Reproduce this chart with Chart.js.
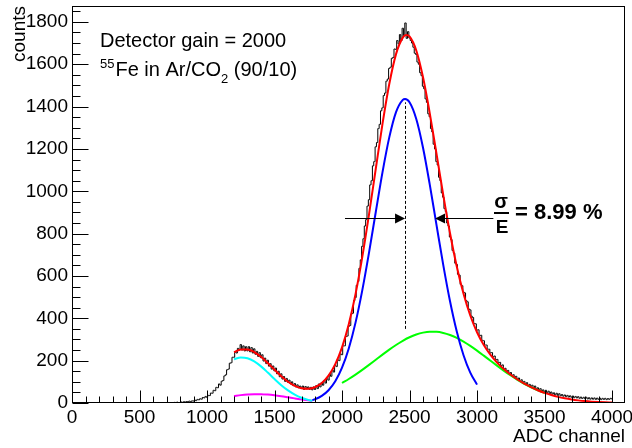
<!DOCTYPE html>
<html><head><meta charset="utf-8">
<script src="https://cdn.jsdelivr.net/npm/chart.js@4/dist/chart.umd.min.js"></script>
<style>html,body{margin:0;padding:0;background:#fff}canvas{display:block}</style>
</head><body>
<canvas id="c" width="632" height="448" style="width:632px;height:448px"></canvas>
<script>
const FONT = '"Liberation Sans", Arial, Helvetica, sans-serif';

// axis ticks
const xTickValues = [0,500,1000,1500,2000,2500,3000,3500,4000];
const yTickValues = [0,200,400,600,800,1000,1200,1400,1600,1800];

// measured histogram (bin centres, counts), 10-channel bins
const histX = [
700,710,720,730,740,750,760,770,780,790,800,810,820,830,840,850,860,870,880,890,
900,910,920,930,940,950,960,970,980,990,1000,1010,1020,1030,1040,1050,1060,1070,1080,1090,
1100,1110,1120,1130,1140,1150,1160,1170,1180,1190,1200,1210,1220,1230,1240,1250,1260,1270,1280,1290,
1300,1310,1320,1330,1340,1350,1360,1370,1380,1390,1400,1410,1420,1430,1440,1450,1460,1470,1480,1490,
1500,1510,1520,1530,1540,1550,1560,1570,1580,1590,1600,1610,1620,1630,1640,1650,1660,1670,1680,1690,
1700,1710,1720,1730,1740,1750,1760,1770,1780,1790,1800,1810,1820,1830,1840,1850,1860,1870,1880,1890,
1900,1910,1920,1930,1940,1950,1960,1970,1980,1990,2000,2010,2020,2030,2040,2050,2060,2070,2080,2090,
2100,2110,2120,2130,2140,2150,2160,2170,2180,2190,2200,2210,2220,2230,2240,2250,2260,2270,2280,2290,
2300,2310,2320,2330,2340,2350,2360,2370,2380,2390,2400,2410,2420,2430,2440,2450,2460,2470,2480,2490,
2500,2510,2520,2530,2540,2550,2560,2570,2580,2590,2600,2610,2620,2630,2640,2650,2660,2670,2680,2690,
2700,2710,2720,2730,2740,2750,2760,2770,2780,2790,2800,2810,2820,2830,2840,2850,2860,2870,2880,2890,
2900,2910,2920,2930,2940,2950,2960,2970,2980,2990,3000,3010,3020,3030,3040,3050,3060,3070,3080,3090,
3100,3110,3120,3130,3140,3150,3160,3170,3180,3190,3200,3210,3220,3230,3240,3250,3260,3270,3280,3290,
3300,3310,3320,3330,3340,3350,3360,3370,3380,3390,3400,3410,3420,3430,3440,3450,3460,3470,3480,3490,
3500,3510,3520,3530,3540,3550,3560,3570,3580,3590,3600,3610,3620,3630,3640,3650,3660,3670,3680,3690,
3700,3710,3720,3730,3740,3750,3760,3770,3780,3790,3800,3810,3820,3830,3840,3850,3860,3870,3880,3890,
3900,3910,3920,3930,3940,3950,3960,3970,3980,3990,4000];
const histY = [
0,1,0,2,1,0,3,1,4,2, 2,5,3,6,4,7,5,9,7,10,
9,14,11,17,15,20,18,26,24,31, 27,36,35,47,46,60,58,74,72,90,
84,103,106,128,133,157,160,188,190,216, 216,240,236,258,250,276,250,270,246,266,
246,266,242,262,236,256,230,244,220,238, 214,228,198,212,186,202,174,186,160,175,
152,165,138,150,124,138,113,125,102,116, 98,108,90,100,82,92,76,86,72,80,
70,80,64,78,66,76,64,74,62,76, 64,82,68,90,76,96,84,106,94,120,
108,136,126,156,146,178,172,204,200,232, 228,270,270,314,316,362,366,420,424,484,
498,556,574,636,676,740,776,836,866,930, 960,1030,1050,1120,1140,1210,1230,1296,1316,1380,
1394,1452,1464,1520,1530,1580,1586,1628,1632,1672, 1670,1712,1696,1740,1712,1770,1734,1795,1722,1754,
1724,1712,1700,1680,1652,1646,1610,1600,1560,1546, 1496,1484,1436,1420,1366,1352,1296,1280,1222,1200,
1140,1124,1066,1050,992,972,918,904,850,836, 784,772,720,708,660,654,608,604,560,554,
524,520,484,478,444,440,410,404,376,374, 344,346,318,320,296,294,274,274,254,254,
236,238,218,222,204,206,190,192,176,180, 156,164,146,154,136,144,128,134,118,126,
110,118,102,110,94,102,88,96,82,88, 76,84,70,80,66,72,60,68,58,62,
52,60,48,56,44,52,42,48,38,46, 36,44,34,40,32,38,30,36,28,34,
27,33,25,31,24,30,22,28,21,27, 20,27,19,25,18,24,18,24,17,23,
17,23,16,22,17,22,16,21,17,22, 19];

// total fit (red)
const redX = [1200,1250,1300,1350,1400,1450,1500,1550,1600,1650,1700,1750,1800,1850,1900,1950,2000,2050,2100,2150,2200,2250,2300,2350,2400,2450,2475,2500,2550,2600,2650,2700,2750,2800,2850,2900,2950,3000,3050,3100,3150,3200,3250,3300,3350,3400,3450,3500,3550,3600,3650,3700,3750,3800,3850,3900,3950,4000];
const redY = [240.3,253.1,253.2,240.8,218.1,188.7,156.7,126.4,100.4,81.1,69.5,67.1,74.5,94.1,129.1,183.6,263.0,372.3,514.4,689.1,890.5,1106.4,1319.0,1506.5,1647.8,1725.7,1737.7,1731.1,1665.0,1538.2,1368.2,1176.2,982.0,801.5,644.7,515.6,413.2,334.3,273.8,227.0,189.7,159.1,133.3,110.9,91.6,74.7,60.2,47.8,37.5,29.0,22.2,16.7,12.4,9.0,6.5,4.6,3.2,2.2];

// main peak (blue)
const blueX = [1780,1800,1850,1900,1950,2000,2050,2100,2150,2200,2250,2300,2350,2400,2450,2467,2500,2550,2600,2650,2700,2750,2800,2850,2900,2950,3000];
const blueY = [13.6,17.7,33.4,60.0,102.5,166.6,257.8,379.7,532.2,710.3,902.0,1090.4,1254.4,1373.7,1431.9,1436,1420.6,1341.5,1205.8,1031.6,840.1,651.1,480.3,337.3,225.5,143.4,86.8];

// secondary peak (green)
const greenX = [2000,2050,2100,2150,2200,2250,2300,2350,2400,2450,2500,2550,2600,2650,2700,2750,2800,2850,2900,2950,3000,3050,3100,3150,3200,3250,3300,3350,3400,3450,3500];
const greenY = [94.4,113.4,134.2,156.6,180.2,204.4,228.6,252.1,274.1,293.8,310.5,323.5,332.4,336.6,336.1,330.9,321.2,307.4,290.1,269.8,247.5,223.8,199.5,175.4,152.0,129.9,109.4,90.9,74.4,60.1,47.8];

// escape peak components (cyan, magenta)
const escX = [1200,1250,1300,1350,1400,1450,1500,1550,1600,1650,1700,1750,1780];
const cyanY = [206.6,214.8,211.2,196.5,172.9,143.9,113.2,84.3,59.4,39.6,24.9,14.9,10.6];
const magentaY = [33.0,37.2,40.3,41.9,41.7,39.8,36.5,32.1,27.0,21.8,16.9,12.6,10.3];

// resolution annotation
const peakMean = 2467;
const peakSigmaEdge = 2689;
const arrowLevel = 875;
const arrowLeftStart = 2022;
const arrowRightStart = 3121;
const dashRange = [350, 1420];
const resolutionText = '= 8.99 %';

const pts = (xs, ys) => xs.map((x, i) => ({x: x, y: ys[i]}));

const curve = (data, color, order) => ({
  data: data, borderColor: color, borderWidth: 2, pointRadius: 0,
  fill: false, cubicInterpolationMode: 'monotone', order: order
});

const rootPlugin = {
  id: 'rootDecor',
  beforeDraw(chart) {
    const c = chart.ctx;
    c.save(); c.fillStyle = '#fff'; c.fillRect(0, 0, chart.width, chart.height); c.restore();
  },
  afterDraw(chart) {
    const c = chart.ctx, a = chart.chartArea, xs = chart.scales.x, ys = chart.scales.y;
    c.save();
    c.strokeStyle = '#000'; c.lineWidth = 1;
    // frame
    c.strokeRect(Math.round(a.left) + 0.5, Math.round(a.top) + 0.5,
                 Math.round(a.right - a.left) - 1, Math.round(a.bottom - a.top) - 1);
    // x ticks (inward)
    c.beginPath();
    const yb = Math.round(a.bottom) - 0.5;
    for (let v = 0; v <= xs.max; v += 100) {
      const px = Math.round(xs.getPixelForValue(v)) + 0.5;
      const len = (v % 500 === 0) ? 12 : 6;
      c.moveTo(px, yb); c.lineTo(px, yb - len);
    }
    // y ticks (inward)
    const xl = Math.round(a.left) + 0.5;
    for (let v = 0; v <= ys.max; v += 50) {
      const py = Math.round(ys.getPixelForValue(v)) + 0.5;
      const len = (v % 200 === 0) ? 16 : 8;
      c.moveTo(xl, py); c.lineTo(xl + len, py);
    }
    c.stroke();

    // dashed mean line
    const mx = Math.round(xs.getPixelForValue(peakMean)) + 0.5;
    c.setLineDash([3, 2]);
    c.beginPath();
    c.moveTo(mx, ys.getPixelForValue(dashRange[0]));
    c.lineTo(mx, ys.getPixelForValue(dashRange[1]));
    c.stroke();
    c.setLineDash([]);

    // arrows
    const ay = Math.round(ys.getPixelForValue(arrowLevel)) + 0.5;
    const drawArrow = (fromV, toV) => {
      const x0 = xs.getPixelForValue(fromV), x1 = xs.getPixelForValue(toV);
      const dir = Math.sign(x1 - x0);
      c.beginPath(); c.moveTo(x0, ay); c.lineTo(x1 - dir * 9, ay); c.stroke();
      c.beginPath();
      c.moveTo(x1, ay); c.lineTo(x1 - dir * 10, ay - 5); c.lineTo(x1 - dir * 10, ay + 5);
      c.closePath(); c.fillStyle = '#000'; c.fill();
    };
    drawArrow(arrowLeftStart, peakMean);
    drawArrow(arrowRightStart, peakSigmaEdge);

    // texts
    c.fillStyle = '#000';
    c.textBaseline = 'alphabetic';
    c.textAlign = 'left';
    c.font = '20px ' + FONT;
    c.fillText('Detector gain = 2000', 100, 47);
    let x = 100;
    c.font = '13px ' + FONT; c.fillText('55', x, 68); x += c.measureText('55').width + 1;
    c.font = '20px ' + FONT; c.fillText('Fe in Ar/CO', x, 76); x += c.measureText('Fe in Ar/CO').width;
    c.font = '13px ' + FONT; c.fillText('2', x, 83); x += c.measureText('2').width;
    c.font = '20px ' + FONT; c.fillText(' (90/10)', x, 76);

    // sigma / E
    c.textAlign = 'center';
    c.font = 'bold 20px ' + FONT; c.fillText('σ', 501, 208);
    c.fillRect(494, 212, 15, 2);
    c.font = 'bold 19px ' + FONT; c.fillText('E', 502, 233);
    c.textAlign = 'left';
    c.font = 'bold 22px ' + FONT; c.fillText(resolutionText, 515, 219);
    c.restore();
  }
};

new Chart(document.getElementById('c'), {
  type: 'line',
  data: {
    datasets: [
      curve(pts(redX, redY), '#ff0000', 1),
      curve(pts(blueX, blueY), '#0000ff', 2),
      curve(pts(greenX, greenY), '#00ff00', 3),
      curve(pts(escX, cyanY), '#00ffff', 4),
      curve(pts(escX, magentaY), '#ff00ff', 5),
      { data: pts(histX, histY), borderColor: '#000', borderWidth: 1, pointRadius: 0,
        fill: false, stepped: 'middle', order: 10 }
    ]
  },
  options: {
    responsive: false, animation: false, devicePixelRatio: 1,
    layout: { padding: { top: 6, right: 7, left: 0, bottom: 0 } },
    plugins: { legend: { display: false }, tooltip: { enabled: false } },
    scales: {
      x: {
        type: 'linear', min: 0, max: 4096,
        afterBuildTicks: s => { s.ticks = xTickValues.map(v => ({ value: v })); },
        afterFit: s => { s.height = 45; s.paddingLeft = 0; s.paddingRight = 0; },
        grid: { display: false, drawTicks: false },
        border: { display: false },
        ticks: { color: '#000', font: { family: FONT, size: 19 }, padding: 3, maxRotation: 0, autoSkip: false,
                 callback: v => String(v) },
        title: { display: true, text: 'ADC channel', align: 'end', color: '#000',
                 font: { family: FONT, size: 19 }, padding: 0 }
      },
      y: {
        type: 'linear', min: 0, max: 1875,
        afterBuildTicks: s => { s.ticks = yTickValues.map(v => ({ value: v })); },
        afterFit: s => { s.width = 72; s.paddingTop = 0; s.paddingBottom = 0; },
        grid: { display: false, drawTicks: false },
        border: { display: false },
        ticks: { color: '#000', font: { family: FONT, size: 19 }, padding: 4, autoSkip: false,
                 callback: v => String(v) },
        title: { display: true, text: 'counts', align: 'end', color: '#000',
                 font: { family: FONT, size: 19 }, padding: { top: 8, bottom: 0 } }
      }
    }
  },
  plugins: [rootPlugin]
});
</script>
</body></html>
